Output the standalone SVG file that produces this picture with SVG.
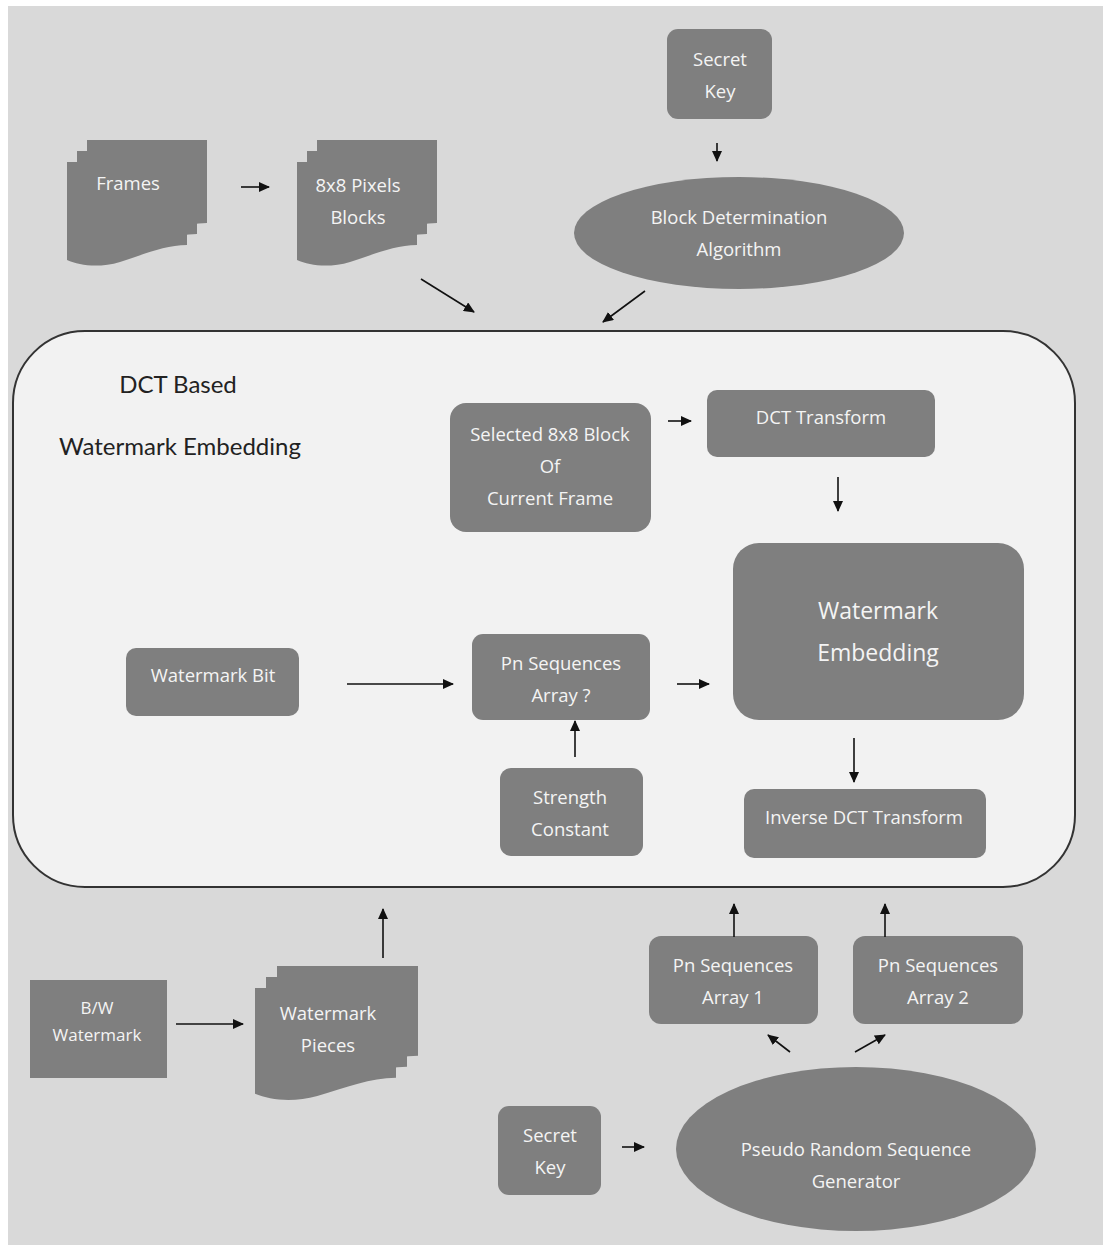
<svg xmlns="http://www.w3.org/2000/svg" width="1103" height="1245" viewBox="0 0 1103 1245">
  <defs>
    <style>
      .bg { fill: #d9d9d9; }
      .node { fill: #7f7f7f; }
      .lbl { font-family: "Open Sans", "Noto Sans", sans-serif; font-size: 18.5px; fill: #f4f4f4; text-anchor: middle; }
      .big { font-size: 23px; }
      .title { font-family: Lato, "Liberation Sans", sans-serif; font-size: 24px; fill: #222; text-anchor: middle; }
      .edge { stroke: #111; stroke-width: 1.6; fill: none; marker-end: url(#arrow); }
    </style>
    <marker id="arrow" markerUnits="userSpaceOnUse" markerWidth="11" markerHeight="10" refX="10" refY="5" orient="auto">
      <path d="M0,0 L11,5 L0,10 Z" fill="#111"/>
    </marker>
    <!-- one sheet of a stacked-document shape, 120 wide -->
    <path id="sheet" d="M0,0 H120 V83 C98,83 78,92 53,100 C33,106 13,104 0,98 Z"/>
  </defs>

  <rect class="bg" x="8" y="6" width="1095" height="1239"/>

  <!-- container -->
  <g id="container">
    <rect x="13" y="331" width="1062" height="556" rx="72" ry="72" fill="#f2f2f2" stroke="#333" stroke-width="2"/>
    <text class="title" x="178" y="393">DCT Based</text>
    <text class="title" x="180" y="455">Watermark Embedding</text>
  </g>

  <g id="frames">
    <use href="#sheet" class="node" transform="translate(87,140)"/>
    <use href="#sheet" class="node" transform="translate(77,151)"/>
    <use href="#sheet" class="node" transform="translate(67,162)"/>
    <text class="lbl" x="128" y="190">Frames</text>
  </g>

  <g id="pixel-blocks">
    <use href="#sheet" class="node" transform="translate(317,140)"/>
    <use href="#sheet" class="node" transform="translate(307,151)"/>
    <use href="#sheet" class="node" transform="translate(297,162)"/>
    <text class="lbl" x="358" y="192">8x8 Pixels</text>
    <text class="lbl" x="358" y="224">Blocks</text>
  </g>

  <g id="secret-key-top">
    <rect class="node" x="667" y="29" width="105" height="90" rx="11"/>
    <text class="lbl" x="720" y="66">Secret</text>
    <text class="lbl" x="720" y="98">Key</text>
  </g>

  <g id="block-determination">
    <ellipse class="node" cx="739" cy="233" rx="165" ry="56"/>
    <text class="lbl" x="739" y="224">Block Determination</text>
    <text class="lbl" x="739" y="256">Algorithm</text>
  </g>

  <g id="selected-block">
    <rect class="node" x="450" y="403" width="201" height="129" rx="16"/>
    <text class="lbl" x="550" y="441">Selected 8x8 Block</text>
    <text class="lbl" x="550" y="473">Of</text>
    <text class="lbl" x="550" y="505">Current Frame</text>
  </g>

  <g id="dct-transform">
    <rect class="node" x="707" y="390" width="228" height="67" rx="10"/>
    <text class="lbl" x="821" y="424">DCT Transform</text>
  </g>

  <g id="watermark-embedding">
    <rect class="node" x="733" y="543" width="291" height="177" rx="26"/>
    <text class="lbl big" x="878" y="619">Watermark</text>
    <text class="lbl big" x="878" y="661">Embedding</text>
  </g>

  <g id="inverse-dct">
    <rect class="node" x="744" y="789" width="242" height="69" rx="10"/>
    <text class="lbl" x="864" y="824">Inverse DCT Transform</text>
  </g>

  <g id="watermark-bit">
    <rect class="node" x="126" y="648" width="173" height="68" rx="10"/>
    <text class="lbl" x="213" y="682">Watermark Bit</text>
  </g>

  <g id="pn-array-q">
    <rect class="node" x="472" y="634" width="178" height="86" rx="11"/>
    <text class="lbl" x="561" y="670">Pn Sequences</text>
    <text class="lbl" x="561" y="702">Array ?</text>
  </g>

  <g id="strength-constant">
    <rect class="node" x="500" y="768" width="143" height="88" rx="11"/>
    <text class="lbl" x="570" y="804">Strength</text>
    <text class="lbl" x="570" y="836">Constant</text>
  </g>

  <g id="bw-watermark">
    <rect class="node" x="30" y="980" width="137" height="98"/>
    <text class="lbl" x="97" y="1014" style="font-size:17px">B/W</text>
    <text class="lbl" x="97" y="1041" style="font-size:17px">Watermark</text>
  </g>

  <g id="watermark-pieces">
    <use href="#sheet" class="node" transform="translate(277,966) scale(1.175,1.08)"/>
    <use href="#sheet" class="node" transform="translate(266,977) scale(1.175,1.08)"/>
    <use href="#sheet" class="node" transform="translate(255,988) scale(1.175,1.08)"/>
    <text class="lbl" x="328" y="1020">Watermark</text>
    <text class="lbl" x="328" y="1052">Pieces</text>
  </g>

  <g id="pn-array-1">
    <rect class="node" x="649" y="936" width="169" height="88" rx="12"/>
    <text class="lbl" x="733" y="972">Pn Sequences</text>
    <text class="lbl" x="733" y="1004">Array 1</text>
  </g>

  <g id="pn-array-2">
    <rect class="node" x="853" y="936" width="170" height="88" rx="12"/>
    <text class="lbl" x="938" y="972">Pn Sequences</text>
    <text class="lbl" x="938" y="1004">Array 2</text>
  </g>

  <g id="secret-key-bottom">
    <rect class="node" x="498" y="1106" width="103" height="89" rx="11"/>
    <text class="lbl" x="550" y="1142">Secret</text>
    <text class="lbl" x="550" y="1174">Key</text>
  </g>

  <g id="prng">
    <ellipse class="node" cx="856" cy="1149" rx="180" ry="82"/>
    <text class="lbl" x="856" y="1156">Pseudo Random Sequence</text>
    <text class="lbl" x="856" y="1188">Generator</text>
  </g>

  <g id="connectors">
    <line class="edge" x1="241" y1="187" x2="269" y2="187"/>
    <line class="edge" x1="717" y1="143" x2="717" y2="161"/>
    <line class="edge" x1="421" y1="279" x2="474" y2="312"/>
    <line class="edge" x1="645" y1="291" x2="603" y2="322"/>
    <line class="edge" x1="668" y1="421" x2="691" y2="421"/>
    <line class="edge" x1="838" y1="477" x2="838" y2="511"/>
    <line class="edge" x1="347" y1="684" x2="453" y2="684"/>
    <line class="edge" x1="677" y1="684" x2="709" y2="684"/>
    <line class="edge" x1="575" y1="757" x2="575" y2="721"/>
    <line class="edge" x1="854" y1="738" x2="854" y2="782"/>
    <line class="edge" x1="383" y1="958" x2="383" y2="909"/>
    <line class="edge" x1="734" y1="937" x2="734" y2="904"/>
    <line class="edge" x1="885" y1="937" x2="885" y2="904"/>
    <line class="edge" x1="176" y1="1024" x2="243" y2="1024"/>
    <line class="edge" x1="622" y1="1147" x2="644" y2="1147"/>
    <line class="edge" x1="790" y1="1052" x2="768" y2="1035"/>
    <line class="edge" x1="855" y1="1052" x2="885" y2="1035"/>
  </g>
</svg>
